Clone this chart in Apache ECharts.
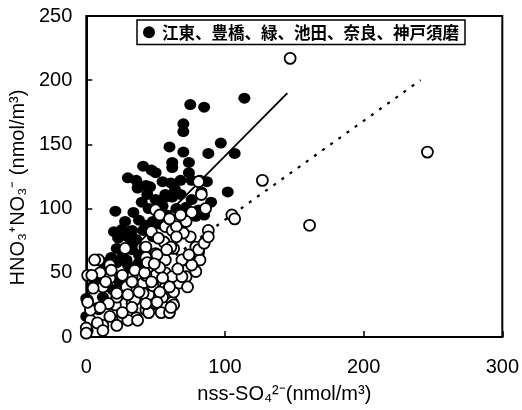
<!DOCTYPE html>
<html><head><meta charset="utf-8">
<script src="https://cdn.jsdelivr.net/npm/echarts@6/dist/echarts.min.js"></script>
<style>html,body{margin:0;padding:0;background:#fff}#c{width:522px;height:410px}</style>
</head><body><div id="c"></div>
<script>
// x: nss-SO4^2- (nmol/m3), y: HNO3+NO3- (nmol/m3)
var legendName = '江東、豊橋、緑、池田、奈良、神戸須磨';
var xTicks = [0, 100, 200, 300];
var yTicks = [0, 50, 100, 150, 200, 250];
var filledPts = [[114,186],[75,181],[85,179],[70,166],[70,160],[97,151],[88,143],[107,143],[70,144],[60,148],[62,136],[74,136],[41,133],[47,130],[50,128],[30,124],[36,122],[37,116],[43,118],[55,121],[61,120],[68,122],[74,128],[76,122],[82,122],[87,121],[102,113],[57,111],[44,111],[50,107],[62,109],[68,111],[76,107],[72,101],[81,99],[85,95],[79,94],[21,98],[34,97],[28,90],[38,91],[43,87],[33,83],[41,83],[23,77],[36,76],[48,78],[22,69],[33,68],[29,60],[38,58],[22,58],[31,50],[36,52],[24,43],[19,37],[12,31],[1,29],[0,16],[1,5],[8,23],[62,132],[46,117],[57,109],[48,90],[26,66],[30,56],[33,72],[24,60],[0,30],[65,100],[58,95],[53,88],[45,100],[40,105],[55,102],[64,115],[83,113],[90,105],[38,64],[42,70],[30,78],[26,84],[18,62],[15,50],[5,40],[10,45],[27,48],[20,82],[12,58]];
var openPts = [[147,217],[161,87],[246,144],[127,122],[81,121],[105,95],[107,92],[88,83],[83,111],[86,100],[76,97],[9,60],[50,99],[53,95],[28,69],[43,70],[57,86],[62,83],[56,74],[63,69],[50,65],[70,60],[57,60],[76,58],[81,66],[75,78],[70,81],[17,56],[65,86],[65,78],[61,70],[79,70],[1,48],[6,60],[17,46],[12,39],[25,34],[33,26],[21,25],[9,22],[3,13],[0,7],[12,9],[17,16],[26,16],[36,15],[43,21],[35,29],[50,26],[45,33],[55,31],[62,27],[63,35],[57,39],[48,40],[41,42],[67,42],[72,47],[79,51],[82,60],[50,48],[57,50],[62,47],[43,48],[33,47],[29,39],[22,31],[41,34],[10,50],[3,21],[4,48],[18,52],[14,43],[5,38],[1,27],[26,48],[35,52],[42,50],[33,43],[51,64],[58,68],[53,54],[43,62],[47,43],[55,46],[60,39],[53,35],[38,35],[30,33],[22,34],[16,26],[10,23],[8,11],[30,13],[37,13],[22,9],[12,5],[45,19],[54,19],[81,68],[76,56],[69,47],[73,39],[63,25],[69,60],[60,19],[0,3],[51,27],[61,23],[26,19],[33,23],[43,26],[72,90],[68,95],[60,92],[47,82],[52,77],[44,58],[49,57],[66,53],[74,64],[85,73],[88,78]];
var solidLine = [[0,32],[145,190]];
var dottedLine = [[0,14],[241,200]];

var chart = echarts.init(document.getElementById('c'), null, {renderer:'canvas'});
var axisFont = {color:'#000', fontFamily:'Liberation Sans, Arial, sans-serif', fontSize:20};
chart.setOption({
  animation:false,
  backgroundColor:'#fff',
  grid:{left:86, right:14, top:16, bottom:73, show:true, borderColor:'#000', borderWidth:2, backgroundColor:'transparent'},
  legend:{
    data:[{name:legendName, icon:'circle'}],
    left:137, top:20, padding:[4,6,4,6], itemWidth:12, itemHeight:12, itemGap:4,
    borderColor:'#000', borderWidth:1.5, backgroundColor:'#fff',
    textStyle:{color:'#000', fontFamily:'Noto Sans CJK JP', fontSize:16.5, fontWeight:'bold', padding:[0,0,0,2]}
  },
  xAxis:{
    type:'value', min:0, max:300, interval:100,
    name:'nss-SO₄²⁻(nmol/m³)', nameLocation:'middle', nameGap:47,
    nameTextStyle:Object.assign({}, axisFont, {padding:[0,20,0,0]}),
    axisLine:{lineStyle:{color:'#000', width:2}},
    axisTick:{inside:true, length:6, lineStyle:{color:'#000', width:1.5}},
    axisLabel:Object.assign({}, axisFont, {margin:20}),
    splitLine:{show:false}
  },
  yAxis:{
    type:'value', min:0, max:250, interval:50,
    name:'HNO₃⁺NO₃⁻ (nmol/m³)', nameLocation:'middle', nameGap:56,
    nameTextStyle:Object.assign({}, axisFont, {padding:[0,22,0,0]}),
    axisLine:{lineStyle:{color:'#000', width:2}},
    axisTick:{inside:true, length:6, lineStyle:{color:'#000', width:1.5}},
    axisLabel:Object.assign({}, axisFont, {margin:14}),
    splitLine:{show:false}
  },
  series:[
    {type:'line', data:dottedLine, symbol:'none', silent:true, z:1,
     lineStyle:{color:'#000', width:2.2, type:[3,7]}},
    {type:'line', data:solidLine, symbol:'none', silent:true, z:1,
     lineStyle:{color:'#000', width:1.8}},
    {name:legendName, type:'scatter', data:filledPts, symbol:'circle', symbolSize:[12,11], z:2,
     itemStyle:{color:'#000', opacity:1}},
    {name:'other', type:'scatter', data:openPts, symbol:'circle', symbolSize:11, z:3,
     itemStyle:{color:'#fff', borderColor:'#000', borderWidth:1.8, opacity:1}}
  ]
});
</script></body></html>
